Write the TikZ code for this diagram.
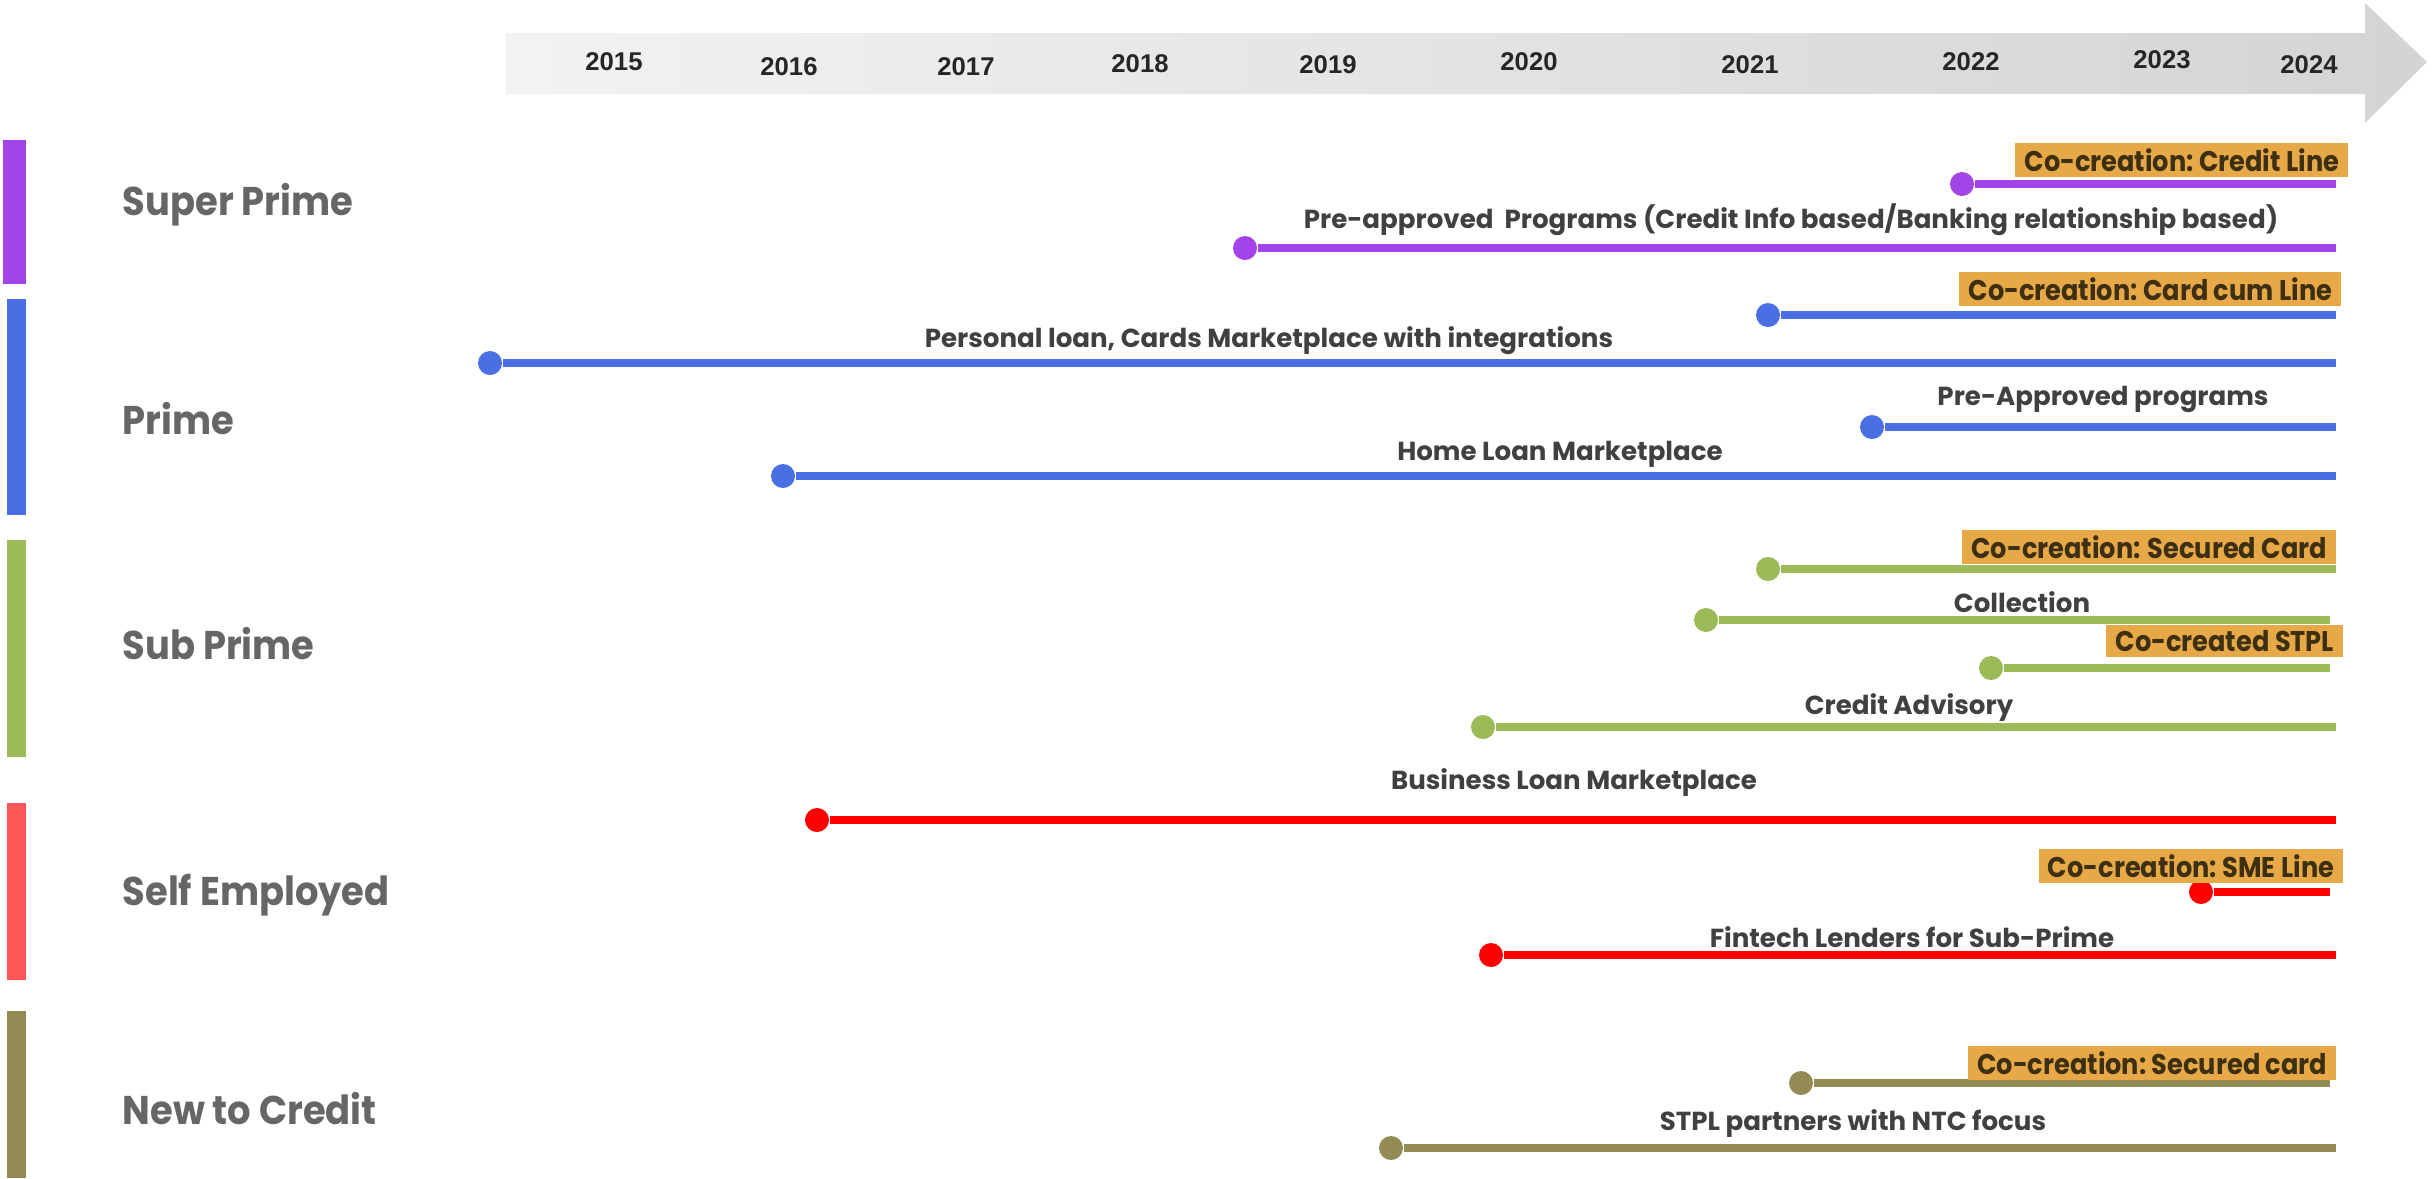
\documentclass[tikz,border=0pt]{standalone}
\usepackage{fontspec}
\setmainfont{Poppins}
\newfontfamily\yearfont{Liberation Sans}
\newfontfamily\narrowfont{Poppins}[FakeStretch=0.9]
\newfontfamily\lanefont{Poppins}[FakeStretch=0.92]
\usetikzlibrary{positioning}
\definecolor{spurple}{HTML}{A344E9}
\definecolor{pblue}{HTML}{4A6FE3}
\definecolor{sgreen}{HTML}{9BBB59}
\definecolor{sered}{HTML}{FF0000}
\definecolor{sebar}{HTML}{FF5757}
\definecolor{ntcol}{HTML}{948A54}
\definecolor{cofill}{HTML}{E7A948}
\definecolor{cotext}{HTML}{3D2F12}
\definecolor{lanegray}{HTML}{666666}
\definecolor{itemgray}{HTML}{404040}
\tikzset{sdot/.style={circle,fill,inner sep=0pt,minimum size=0.24cm}}
\tikzset{bar/.style={line width=2.3pt,line cap=butt}}
\tikzset{tag/.style={text=itemgray,inner sep=0pt,font=\fontsize{7.42}{9}\selectfont\bfseries}}
\tikzset{cotag/.style={fill=cofill,text=cotext,inner xsep=2.6pt,inner ysep=1.6pt,anchor=south east,font=\narrowfont\fontsize{8.1}{10}\selectfont\bfseries}}
\tikzset{lanelbl/.style={text=lanegray,anchor=west,inner sep=0pt,font=\lanefont\fontsize{11.4}{14}\selectfont\bfseries}}
\tikzset{yearlbl/.style={inner sep=0pt,text=black!85,font=\yearfont\fontsize{7.3}{9}\selectfont\bfseries}}

\begin{document}
\begin{tikzpicture}[x=0.01cm,y=-0.01cm]
        \useasboundingbox (0,0) rectangle (2432,1178);

        % time axis
        \shade[left color=black!5,right color=black!17]
            (506,33) -- (2365,33) -- (2365,3) -- (2427,62) -- (2365,123) -- (2365,94) -- (506,94) -- cycle;
        \node[yearlbl] (y15) at (614,62) {2015};
        \node[yearlbl] (y16) at (789,67) {2016};
        \node[yearlbl] (y17) at (966,67) {2017};
        \node[yearlbl] (y18) at (1140,64) {2018};
        \node[yearlbl] (y19) at (1328,65) {2019};
        \node[yearlbl] (y20) at (1529,62) {2020};
        \node[yearlbl] (y21) at (1750,65) {2021};
        \node[yearlbl] (y22) at (1971,62) {2022};
        \node[yearlbl] (y23) at (2162,60) {2023};
        \node[yearlbl] (y24) at (2309,65) {2024};

        % segments
        \fill[spurple] (3,140) rectangle (26,284);
        \fill[pblue] (7,299) rectangle (26,515);
        \fill[sgreen] (7,540) rectangle (26,757);
        \fill[sebar] (7,803) rectangle (26,980);
        \fill[ntcol] (7,1011) rectangle (26,1178);
        \node[lanelbl] (sp) at (122,205) {Super Prime};
        \node[lanelbl] (pr) at (122,419) {Prime};
        \node[lanelbl] (sub) at (122,644) {Sub Prime};
        \node[lanelbl] (se) at (122,895) {Self Employed};
        \node[lanelbl] (ntc) at (122,1109) {New to Credit};

        % super prime
        \node[sdot,spurple] (sp1) at (1962,184) {};
        \coordinate (sp1e) at (2336,184);
        \node[sdot,spurple] (sp2) at (1245,248) {};
        \coordinate (sp2e) at (2336,248);
        \draw[bar,spurple] (sp1) -- (sp1e);
        \draw[bar,spurple] (sp2) -- (sp2e);
        \node[cotag] (sp1t) at (2349,178) {Co-creation:\ Credit Line};
        \node[tag] (sp2t) at (1791,220) {Pre-approved\ \ Programs (Credit Info based/Banking relationship based)};

        % prime
        \node[sdot,pblue] (pr1) at (1768,315) {};
        \coordinate (pr1e) at (2336,315);
        \node[sdot,pblue] (pr2) at (490,363) {};
        \coordinate (pr2e) at (2336,363);
        \node[sdot,pblue] (pr3) at (1872,427) {};
        \coordinate (pr3e) at (2336,427);
        \node[sdot,pblue] (pr4) at (783,476) {};
        \coordinate (pr4e) at (2336,476);
        \draw[bar,pblue] (pr1) -- (pr1e);
        \draw[bar,pblue] (pr2) -- (pr2e);
        \draw[bar,pblue] (pr3) -- (pr3e);
        \draw[bar,pblue] (pr4) -- (pr4e);
        \node[cotag] (pr1t) at (2342,307) {Co-creation:\ Card cum Line};
        \node[tag] (pr2t) at (1269,341) {Personal loan, Cards Marketplace with integrations};
        \node[tag] (pr3t) at (2103,399) {Pre-Approved programs};
        \node[tag] (pr4t) at (1560,454) {Home Loan Marketplace};

        % sub prime
        \node[sdot,sgreen] (sub1) at (1768,569) {};
        \coordinate (sub1e) at (2336,569);
        \node[sdot,sgreen] (sub2) at (1706,620) {};
        \coordinate (sub2e) at (2330,620);
        \node[sdot,sgreen] (sub3) at (1991,668) {};
        \coordinate (sub3e) at (2330,668);
        \node[sdot,sgreen] (sub4) at (1483,727) {};
        \coordinate (sub4e) at (2336,727);
        \draw[bar,sgreen] (sub1) -- (sub1e);
        \draw[bar,sgreen] (sub2) -- (sub2e);
        \draw[bar,sgreen] (sub3) -- (sub3e);
        \draw[bar,sgreen] (sub4) -- (sub4e);
        \node[cotag] (sub1t) at (2337,565) {Co-creation: Secured Card};
        \node[tag] (sub2t) at (2022,602) {Collection};
        \node[cotag] (sub3t) at (2344,658) {Co-created STPL};
        \node[tag] (sub4t) at (1909,707) {Credit Advisory};

        % self employed
        \node[sdot,sered] (se1) at (817,820) {};
        \coordinate (se1e) at (2336,820);
        \node[sdot,sered] (se2) at (2201,892) {};
        \coordinate (se2e) at (2330,892);
        \node[sdot,sered] (se3) at (1491,955) {};
        \coordinate (se3e) at (2336,955);
        \node[tag] (se1t) at (1574,783) {Business Loan Marketplace};
        \node[cotag] (se2t) at (2344,884) {Co-creation:\ SME Line};
        \draw[bar,sered] (se1) -- (se1e);
        \draw[bar,sered] (se2) -- (se2e);
        \draw[bar,sered] (se3) -- (se3e);
        \node[tag] (se3t) at (1912,937) {Fintech Lenders for Sub-Prime};

        % new to credit
        \node[sdot,ntcol] (ntc1) at (1801,1083) {};
        \coordinate (ntc1e) at (2330,1083);
        \node[sdot,ntcol] (ntc2) at (1391,1148) {};
        \coordinate (ntc2e) at (2336,1148);
        \draw[bar,ntcol] (ntc1) -- (ntc1e);
        \draw[bar,ntcol] (ntc2) -- (ntc2e);
        \node[cotag] (ntc1t) at (2337,1081) {Co-creation:\ Secured card};
        \node[tag] (ntc2t) at (1853,1124) {STPL partners with NTC focus};
    \end{tikzpicture}
\end{document}
